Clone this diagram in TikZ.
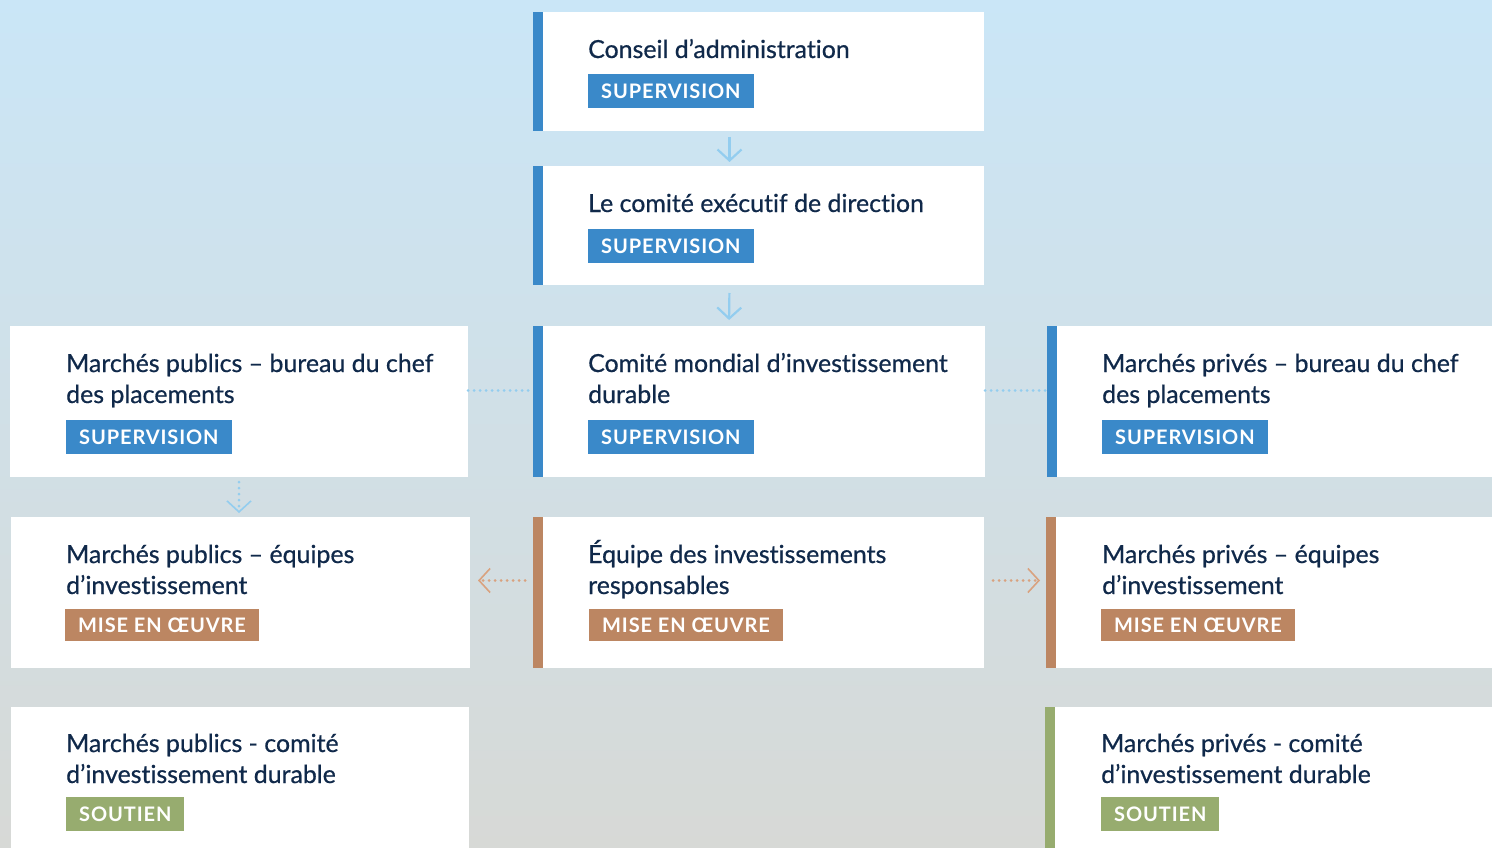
\documentclass[tikz,border=0pt]{standalone}
\usepackage{fontspec}
\setmainfont{Lato}[Ligatures=NoCommon,FakeBold=0.6]
\newfontfamily\tagfont[LetterSpace=4.5]{Lato}
\usetikzlibrary{positioning,arrows.meta}

\definecolor{navy}{HTML}{10294A}
\definecolor{supblue}{HTML}{3A89C9}
\definecolor{misebrown}{HTML}{BC8662}
\definecolor{soutgreen}{HTML}{97AC6F}
\definecolor{arrowblue}{HTML}{93CDEF}
\definecolor{dotbrown}{HTML}{D9A27F}
\definecolor{bgtop}{HTML}{CAE6F7}
\definecolor{bgmid}{HTML}{CEE1EA}
\definecolor{bgbot}{HTML}{D7D9D6}

\begin{document}
\begin{tikzpicture}[x=1pt,y=-1pt,
  card/.style={fill=white,anchor=north west,inner sep=0pt,outer sep=0pt},
  barcard/.style={card,path picture={\fill[#1] (path picture bounding box.north west) rectangle ([xshift=10pt]path picture bounding box.south west);}},
  titletext/.style={align=left,inner sep=0pt,font=\fontsize{24.9}{31}\selectfont,text=navy},
  tagbox/.style={fill=#1,text=white,inner xsep=13pt,inner ysep=0pt,minimum height=34pt,font=\tagfont\bfseries\fontsize{20}{20}\selectfont},
  solidarrow/.style={arrowblue,line width=2.2pt,-{Straight Barb[length=11pt,width=24pt]}},
  dotline/.style={#1,line width=3pt,line cap=round,dash pattern=on 0pt off 6pt},
  dotarrow/.style={dotline=#1,-{Straight Barb[length=11pt,width=24pt,line width=1.6pt]}}]
\useasboundingbox (0,0) rectangle (1492,848);
\shade[top color=bgtop,middle color=bgmid,bottom color=bgbot] (0,0) rectangle (1492,848);

% cards
\node[barcard=supblue,minimum width=451pt,minimum height=119pt] (conseil) at (533,12) {};
\node[barcard=supblue,minimum width=451pt,minimum height=119pt] (comex) at (533,166) {};
\node[card,minimum width=458pt,minimum height=151pt] (pubbureau) at (10,326) {};
\node[barcard=supblue,minimum width=452pt,minimum height=151pt] (mondial) at (533,326) {};
\node[barcard=supblue,minimum width=445pt,minimum height=151pt] (privbureau) at (1047,326) {};
\node[card,minimum width=459pt,minimum height=151pt] (pubequipes) at (11,517) {};
\node[barcard=misebrown,minimum width=451pt,minimum height=151pt] (equipe) at (533,517) {};
\node[barcard=misebrown,minimum width=446pt,minimum height=151pt] (privequipes) at (1046,517) {};
\node[card,minimum width=458pt,minimum height=141pt] (pubcomite) at (11,707) {};
\node[barcard=soutgreen,minimum width=447pt,minimum height=141pt] (privcomite) at (1045,707) {};

% titles (base = last line)
\node[titletext,below right=46pt and 55pt of conseil.north west,anchor=base west] (conseilt) {Conseil d’administration};
\node[titletext,below right=46pt and 55pt of comex.north west,anchor=base west] (comext) {Le comité exécutif de direction};
\node[titletext,below right=77pt and 56pt of pubbureau.north west,anchor=base west] (pubbureaut) {Marchés publics – bureau du chef\\des placements};
\node[titletext,below right=77pt and 55pt of mondial.north west,anchor=base west] (mondialt) {Comité mondial d’investissement\\durable};
\node[titletext,below right=77pt and 55pt of privbureau.north west,anchor=base west] (privbureaut) {Marchés privés – bureau du chef\\des placements};
\node[titletext,below right=77pt and 55pt of pubequipes.north west,anchor=base west] (pubequipest) {Marchés publics – équipes\\d’investissement};
\node[titletext,below right=77pt and 55pt of equipe.north west,anchor=base west] (equipet) {Équipe des investissements\\responsables};
\node[titletext,below right=77pt and 56pt of privequipes.north west,anchor=base west] (privequipest) {Marchés privés – équipes\\d’investissement};
\node[titletext,below right=76pt and 55pt of pubcomite.north west,anchor=base west] (pubcomitet) {Marchés publics - comité\\d’investissement durable};
\node[titletext,below right=76pt and 56pt of privcomite.north west,anchor=base west] (privcomitet) {Marchés privés - comité\\d’investissement durable};

% tags
\node[tagbox=supblue,below right=62pt and 55pt of conseil.north west] (conseilg) {SUPERVISION};
\node[tagbox=supblue,below right=63pt and 55pt of comex.north west] (comexg) {SUPERVISION};
\node[tagbox=supblue,below right=94pt and 56pt of pubbureau.north west] (pubbureaug) {SUPERVISION};
\node[tagbox=supblue,below right=94pt and 55pt of mondial.north west] (mondialg) {SUPERVISION};
\node[tagbox=supblue,below right=94pt and 55pt of privbureau.north west] (privbureaug) {SUPERVISION};
\node[tagbox=misebrown,minimum height=32pt,below right=92pt and 54pt of pubequipes.north west] (pubequipesg) {MISE EN ŒUVRE};
\node[tagbox=misebrown,minimum height=32pt,below right=92pt and 56pt of equipe.north west] (equipeg) {MISE EN ŒUVRE};
\node[tagbox=misebrown,minimum height=32pt,below right=92pt and 55pt of privequipes.north west] (privequipesg) {MISE EN ŒUVRE};
\node[tagbox=soutgreen,below right=90pt and 55pt of pubcomite.north west] (pubcomiteg) {SOUTIEN};
\node[tagbox=soutgreen,below right=90pt and 56pt of privcomite.north west] (privcomiteg) {SOUTIEN};

% connectors
\draw[solidarrow,shorten <=6pt,shorten >=4pt] ([xshift=-29pt]conseil.south) -- ([xshift=-29pt]comex.north);
\draw[solidarrow,shorten <=8pt,shorten >=6pt] ([xshift=-29pt]comex.south) -- ([xshift=-30pt]mondial.north);
\draw[dotline=arrowblue] ([yshift=11pt]pubbureau.east) -- ([yshift=11pt]mondial.west);
\draw[dotline=arrowblue] ([yshift=11pt]mondial.east) -- ([yshift=11pt]privbureau.west);
\draw[dotarrow=arrowblue,shorten <=5pt,shorten >=4pt] (pubbureau.south) -- (pubbureau.south |- pubequipes.north);
\draw[dotarrow=dotbrown,shorten <=8pt,shorten >=8pt] ([yshift=12pt]equipe.west) -- ([yshift=12pt]pubequipes.east);
\draw[dotarrow=dotbrown,shorten <=9pt,shorten >=6pt] ([yshift=12pt]equipe.east) -- ([yshift=12pt]privequipes.west);
\end{tikzpicture}
\end{document}
